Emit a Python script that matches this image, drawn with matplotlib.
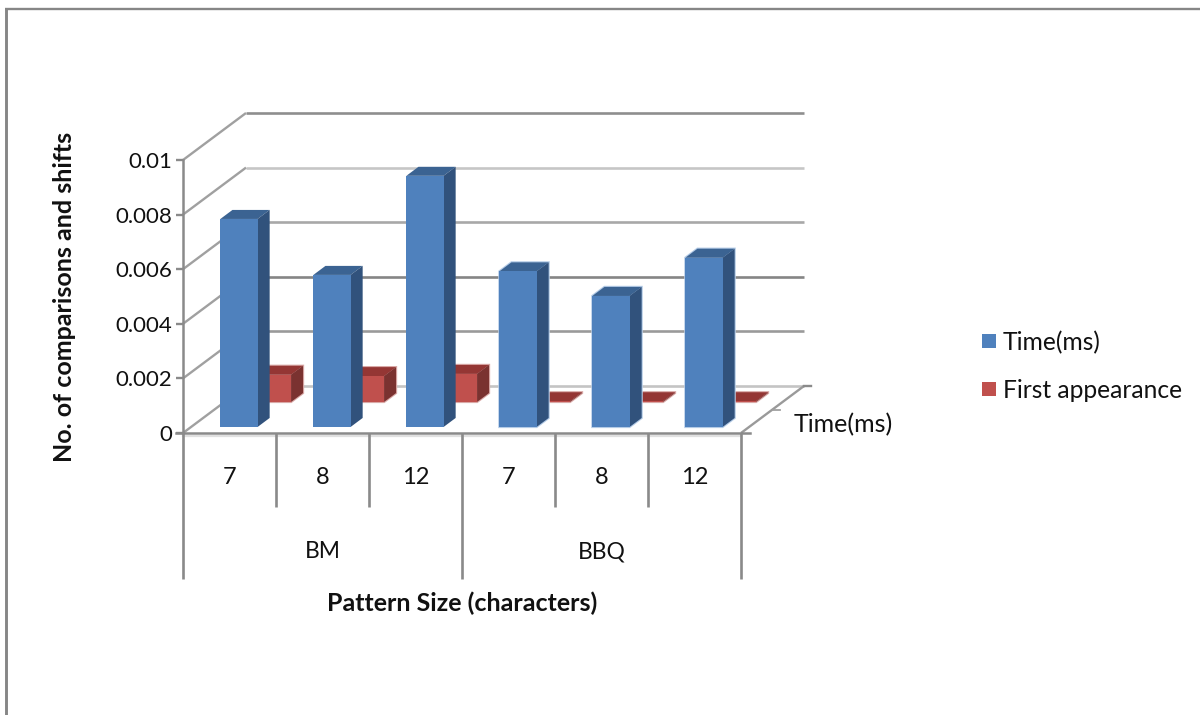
import matplotlib
matplotlib.use("Agg")
import matplotlib.pyplot as plt
from matplotlib.patches import Polygon

plt.rcParams['font.family'] = ['Lato', 'DejaVu Sans']

# Chart values
pattern_sizes = ['7', '8', '12', '7', '8', '12']
algorithms = ['BM', 'BBQ']
time_ms = [0.00762, 0.00557, 0.0092, 0.0057, 0.0048, 0.0062]
first_appearance = [0.00100, 0.00095, 0.00103, 0.00003, 0.00003, 0.00003]
y_ticks = [0, 0.002, 0.004, 0.006, 0.008, 0.01]
y_tick_labels = ['0', '0.002', '0.004', '0.006', '0.008', '0.01']
series_names = ['Time(ms)', 'First appearance']

W, H = 1200, 715
fig = plt.figure(figsize=(W / 100, H / 100), dpi=100, facecolor='white')

# Full-figure overlay, in pixels, for the outer frame and legend
bg = fig.add_axes([0, 0, 1, 1])
bg.set_xlim(0, W)
bg.set_ylim(H, 0)
bg.axis('off')
FRAME = '#868686'
bg.plot([6.3, 6.3], [8, H], color=FRAME, lw=2.1, solid_capstyle='butt')
bg.plot([5, W], [9, 9], color=FRAME, lw=1.7, solid_capstyle='butt')

# Front face of the plot: category units across, values upward
L, R, Y0, Y1 = 183, 741, 433, 160
ax = fig.add_axes([L / W, 1 - Y0 / H, (R - L) / W, (Y0 - Y1) / H])
ax.patch.set_alpha(0)
ax.set_xlim(0, 6)
ax.set_ylim(0, 0.01)
for s in ['top', 'right', 'bottom']:
    ax.spines[s].set_visible(False)
ax.spines['left'].set_color('#8a8a8a')
ax.spines['left'].set_linewidth(1.8)
ax.set_xticks([])
ax.set_yticks(y_ticks)
ax.set_yticklabels(y_tick_labels, fontsize=16, color='#111111')
ax.tick_params(axis='y', length=5, width=1.7, color='#8a8a8a', pad=3)
ax.set_ylabel('No. of comparisons and shifts', fontsize=18, fontweight='bold',
              color='#111111', va='center')
ax.yaxis.set_label_coords(-0.213, 0.50)

# Oblique depth projection, expressed in data units
cat_px = (R - L) / 6
val_px = (Y0 - Y1) / 0.01
DX = 63 / cat_px
DY = 47 / val_px


def proj(x, v, d):
    return x + DX * d, v + DY * d


def line3(p, q, **kw):
    a, b = proj(*p), proj(*q)
    ax.plot([a[0], b[0]], [a[1], b[1]], clip_on=False, solid_capstyle='butt', **kw)


# Back-wall gridlines and side-wall lines
grid_shades = ['#c4c4c4', '#9a9a9a', '#858585', '#a8a8a8', '#c6c6c6', '#8e8e8e']
for v, shade in zip(y_ticks, grid_shades):
    line3((0, v, 1), (6, v, 1), color=shade, lw=1.9, zorder=1)
    line3((0, v, 0), (0, v, 1), color='#a0a0a0', lw=1.7, zorder=1)

# Floor edge on the right, with its depth ticks
line3((6, 0, 0), (6, 0, 1), color='#9a9a9a', lw=1.7, zorder=1)
a = proj(6, 0, 1)
ax.plot([a[0], a[0] + 7 / cat_px], [a[1], a[1]], color='#8a8a8a', lw=1.7, clip_on=False, zorder=1)
a = proj(6, 0, 0.5)
ax.plot([a[0], a[0] + 7 / cat_px], [a[1], a[1]], color='#a0a0a0', lw=1.3, clip_on=False, zorder=1)

# Front floor edge and the category separators below it
ax.plot([-7 / cat_px, 6 + 9 / cat_px], [0, 0], color='#8a8a8a', lw=1.8, clip_on=False, zorder=2)
ax.plot([0, 6], [-3 / val_px, -3 / val_px], color='#e0e0e0', lw=1.6, clip_on=False, zorder=1)
for c in range(7):
    depth_px = 146 if c % 3 == 0 else 74
    ax.plot([c, c], [0, -depth_px / val_px], color='#8a8a8a', lw=1.9, clip_on=False,
            solid_capstyle='butt', zorder=2)

BAR_X, BAR_W = 0.315, 0.4


def bar3d(c, v, d0, d1, front, side, top, halo=None, zorder=3):
    x0, x1 = c + BAR_X, c + BAR_X + BAR_W
    kw = dict(closed=True, clip_on=False, zorder=zorder, linewidth=0)
    if halo:
        # Pale rim around the bar's outline
        ax.add_patch(Polygon([proj(x0, 0, d0), proj(x1, 0, d0), proj(x1, 0, d1),
                              proj(x1, v, d1), proj(x0, v, d1), proj(x0, v, d0)],
                             closed=True, clip_on=False, zorder=zorder,
                             facecolor=halo, edgecolor=halo, linewidth=1.6))
    ax.add_patch(Polygon([proj(x0, v, d0), proj(x1, v, d0), proj(x1, v, d1), proj(x0, v, d1)],
                         facecolor=top, **kw))
    ax.add_patch(Polygon([proj(x1, 0, d0), proj(x1, v, d0), proj(x1, v, d1), proj(x1, 0, d1)],
                         facecolor=side, **kw))
    ax.add_patch(Polygon([proj(x0, 0, d0), proj(x1, 0, d0), proj(x1, v, d0), proj(x0, v, d0)],
                         facecolor=front, **kw))


# Rear series first so the front series overlaps it
for c, v in enumerate(first_appearance):
    bar3d(c, v, 0.66, 0.85, '#C0504D', '#7A3230', '#943634', halo='#d9a9a7', zorder=3)
for c, v in enumerate(time_ms):
    bar3d(c, v, 0.128, 0.32, '#4F81BD', '#31527C', '#3B6392',
          halo='#b4cbe6' if c >= 3 else None, zorder=4)

# Category labels in two rows
for c, lab in enumerate(pattern_sizes):
    ax.text(c + 0.5, -44 / val_px, lab, ha='center', va='center', fontsize=17,
            color='#111111', clip_on=False)
for i, lab in enumerate(algorithms):
    ax.text(1.5 + 3 * i, -119 / val_px, lab, ha='center', va='center', fontsize=16.5,
            color='#111111', clip_on=False)
ax.text(3, -170 / val_px, 'Pattern Size (characters)', ha='center', va='center',
        fontsize=18, fontweight='bold', color='#111111', clip_on=False)
ax.text(6 + 102 / cat_px, 8 / val_px, series_names[0], ha='center', va='center',
        fontsize=18, color='#111111', clip_on=False)

# Legend
for yc, name, col in zip([341, 389], series_names, ['#4F81BD', '#C0504D']):
    bg.add_patch(plt.Rectangle((982, yc - 7), 14, 14, facecolor=col, linewidth=0))
    bg.text(1003, yc + 1.5, name, ha='left', va='center', fontsize=17.7, color='#111111')

fig.savefig('out.png', dpi=100, facecolor='white')
